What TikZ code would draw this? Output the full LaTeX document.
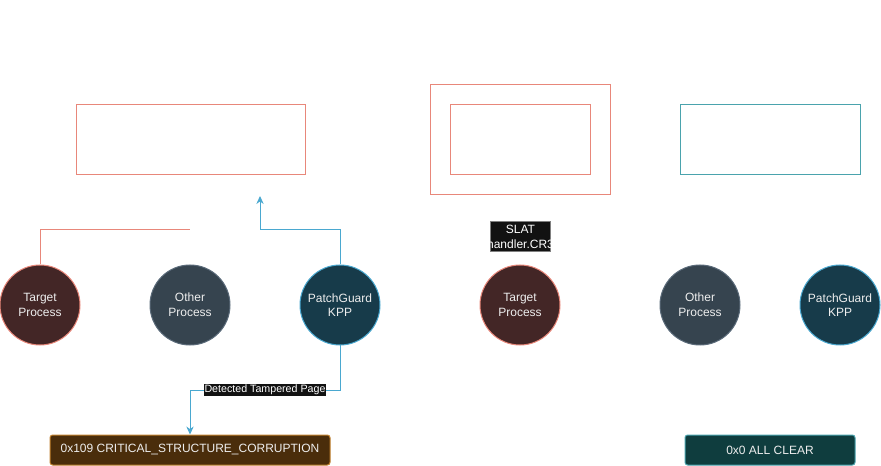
\documentclass[tikz,border=0pt]{standalone}
\usepackage{fontspec}
\setmainfont{Liberation Sans}
\usetikzlibrary{arrows.meta}

\definecolor{salmon}{HTML}{E8877A}
\definecolor{skyline}{HTML}{4AA8D0}
\definecolor{tealline}{HTML}{4AA3AD}
\definecolor{targetfill}{HTML}{432626}
\definecolor{otherfill}{HTML}{36444F}
\definecolor{otherline}{HTML}{5B6B7A}
\definecolor{kppfill}{HTML}{173B4A}
\definecolor{bsodfill}{HTML}{4A2D0B}
\definecolor{bsodline}{HTML}{C0802E}
\definecolor{clearfill}{HTML}{0F3D3E}
\definecolor{textgray}{HTML}{EEEEEE}

\tikzset{
  proc/.style={circle, minimum size=60pt, inner sep=0pt, align=center, text=textgray, font=\fontsize{9}{11}\selectfont, line width=0.75pt},
  target/.style={proc, draw=salmon, fill=targetfill},
  other/.style={proc, draw=otherline, fill=otherfill},
  kpp/.style={proc, draw=skyline, fill=kppfill},
  result/.style={rounded corners=2pt, minimum height=22.5pt, inner sep=0pt, text=textgray, font=\fontsize{9}{11}\selectfont, line width=0.75pt},
  tag/.style={fill=black!93, text=white, inner sep=0.75pt, font=\fontsize{8}{9.5}\selectfont},
  flow/.style={-{Stealth[length=6pt,width=5.5pt]}}
}

\begin{document}
\begin{tikzpicture}[x=0.75pt,y=0.75pt,yscale=-1,xscale=1]
\useasboundingbox (0,0) rectangle (881,466);

%Shape: Rectangle [id:guest]
\draw [color=salmon ,line width=0.75] (76,105) -- (305,105) -- (305,175) -- (76,175) -- cycle ;
%Shape: Rectangle [id:slatout]
\draw [color=salmon ,line width=0.75] (430,85) -- (610,85) -- (610,195) -- (430,195) -- cycle ;
%Shape: Rectangle [id:slatin]
\draw [color=salmon ,line width=0.75] (450,105) -- (590,105) -- (590,175) -- (450,175) -- cycle ;
%Shape: Rectangle [id:clean]
\draw [color=tealline ,line width=0.75] (680,105) -- (860,105) -- (860,175) -- (680,175) -- cycle ;

% Circles
\node [target] (tpa) at (40,305) {Target\\Process};
\node [other] (opa) at (190,305) {Other\\Process};
\node [kpp] (kpa) at (340,305) {PatchGuard\\KPP};
\node [target] (tpb) at (520,305) {Target\\Process};
\node [other] (opb) at (700,305) {Other\\Process};
\node [kpp] (kpb) at (840,305) {PatchGuard\\KPP};

% Result boxes
\node [result, draw=bsodline, fill=bsodfill, minimum width=210pt] (bsod) at (190,450) {0x109 CRITICAL\_STRUCTURE\_CORRUPTION};
\node [result, draw=tealline, fill=clearfill, minimum width=127.5pt] (clear) at (770,450) {0x0 ALL CLEAR};

% Points
\coordinate (walk) at (190,230);
\coordinate (bend) at (260,230);
\coordinate (scan) at (260,196);
\coordinate (drop) at (190,390);

%Connectors
\draw [color=salmon ,line width=0.75] (tpa.north) |- (walk) ;
\draw [color=skyline ,line width=0.75, flow] (kpa.north) |- (bend) -- (scan) ;
\draw [color=skyline ,line width=0.75, flow] (kpa.south) |- (drop) node [tag, pos=0.75] {Detected Tampered Page} -- (bsod.north) ;

% Text Node (clipped label)
\begin{scope}
\clip (490,222) rectangle (551,252);
\node [fill=black!93, draw=gray, line width=0.75pt, minimum width=45pt, minimum height=22.5pt, inner sep=0pt] (slat) at (520.5,237) {};
\node [text=white, align=center, inner sep=0pt, font=\fontsize{9}{11}\selectfont] at (520.5,237) {SLAT\\handler.CR3};
\end{scope}

\end{tikzpicture}
\end{document}
